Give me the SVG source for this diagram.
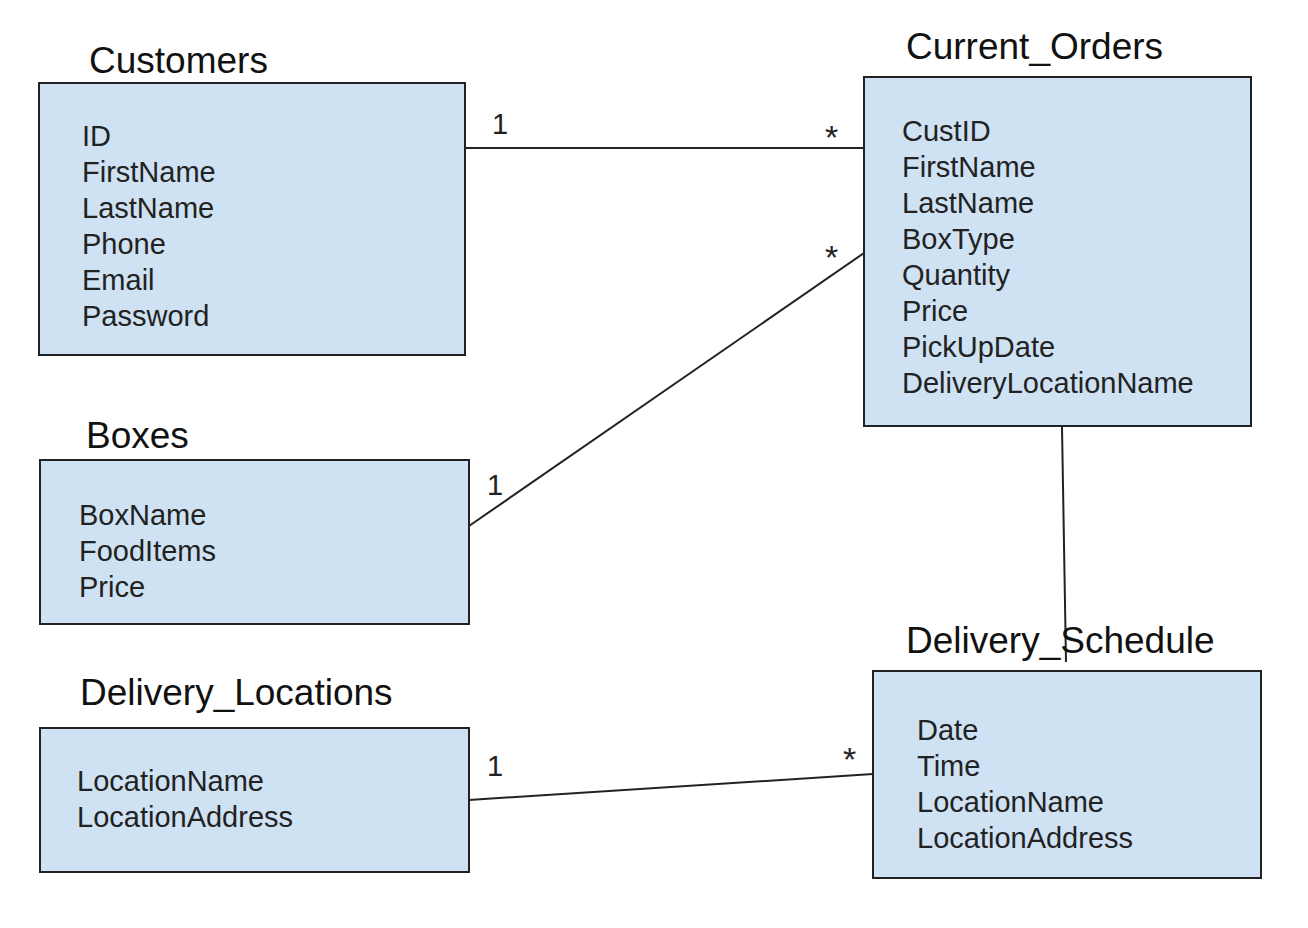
<svg xmlns="http://www.w3.org/2000/svg" width="1308" height="928" viewBox="0 0 1308 928">
<style>
.box{fill:#cfe2f3;stroke:#222;stroke-width:2}
.title{font-family:"Liberation Sans",Arial,sans-serif;font-size:37px;fill:#111}
.item{font-family:"Liberation Sans",Arial,sans-serif;font-size:29px;fill:#222}
.lbl{font-family:"Liberation Sans",Arial,sans-serif;font-size:29px;fill:#222}
.star{font-family:"Liberation Sans",Arial,sans-serif;font-size:34px;fill:#222}
.conn{stroke:#222;stroke-width:2;fill:none}
</style>
<rect width="1308" height="928" fill="#fff"/>
<g id="connectors">
<line class="conn" x1="465" y1="148" x2="864" y2="148"/>
<line class="conn" x1="469" y1="526" x2="864" y2="253"/>
<line class="conn" x1="1062" y1="427" x2="1066" y2="662"/>
<line class="conn" x1="469" y1="800" x2="873" y2="774"/>
<text class="lbl" x="492" y="134">1</text>
<text class="star" x="825" y="149">*</text>
<text class="lbl" x="487" y="495">1</text>
<text class="star" x="825" y="269">*</text>
<text class="lbl" x="487" y="776">1</text>
<text class="star" x="843" y="771">*</text>
</g>
<g id="customers">
<text class="title" x="89" y="73">Customers</text>
<rect class="box" x="39" y="83" width="426" height="272"/>
<text class="item" x="82" y="146">ID</text>
<text class="item" x="82" y="182">FirstName</text>
<text class="item" x="82" y="218">LastName</text>
<text class="item" x="82" y="254">Phone</text>
<text class="item" x="82" y="290">Email</text>
<text class="item" x="82" y="326">Password</text>
</g>
<g id="current_orders">
<text class="title" x="906" y="59">Current_Orders</text>
<rect class="box" x="864" y="77" width="387" height="349"/>
<text class="item" x="902" y="141">CustID</text>
<text class="item" x="902" y="177">FirstName</text>
<text class="item" x="902" y="213">LastName</text>
<text class="item" x="902" y="249">BoxType</text>
<text class="item" x="902" y="285">Quantity</text>
<text class="item" x="902" y="321">Price</text>
<text class="item" x="902" y="357">PickUpDate</text>
<text class="item" x="902" y="393">DeliveryLocationName</text>
</g>
<g id="boxes">
<text class="title" x="86" y="448">Boxes</text>
<rect class="box" x="40" y="460" width="429" height="164"/>
<text class="item" x="79" y="525">BoxName</text>
<text class="item" x="79" y="561">FoodItems</text>
<text class="item" x="79" y="597">Price</text>
</g>
<g id="delivery_locations">
<text class="title" x="80" y="705">Delivery_Locations</text>
<rect class="box" x="40" y="728" width="429" height="144"/>
<text class="item" x="77" y="791">LocationName</text>
<text class="item" x="77" y="827">LocationAddress</text>
</g>
<g id="delivery_schedule">
<text class="title" x="906" y="653">Delivery_Schedule</text>
<rect class="box" x="873" y="671" width="388" height="207"/>
<text class="item" x="917" y="740">Date</text>
<text class="item" x="917" y="776">Time</text>
<text class="item" x="917" y="812">LocationName</text>
<text class="item" x="917" y="848">LocationAddress</text>
</g>
</svg>
